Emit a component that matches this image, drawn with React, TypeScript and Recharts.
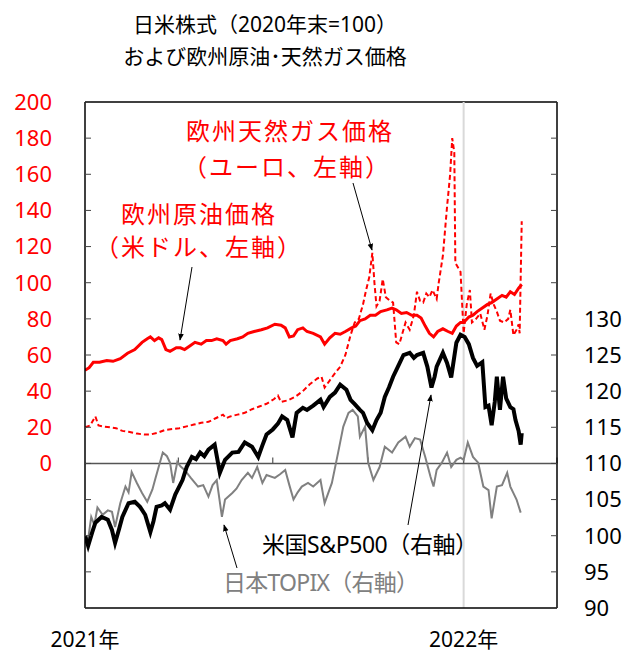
import React from "react";
import { LineChart, Line, XAxis, YAxis, ReferenceLine } from "recharts";

// x = days since 2021-01-01
const oil: [number, number][] = [
  [0, 51.5], [4, 53], [8, 56], [14, 56], [21, 57], [27, 56.5], [34, 58], [41, 61], [48, 63],
  [55, 67], [60, 69], [63, 70], [67, 68], [71, 69.5], [74, 68.5], [78, 63], [82, 62], [88, 64],
  [92, 64], [96, 63], [101, 65], [106, 67], [112, 66], [117, 68], [122, 68], [127, 69], [133, 68],
  [136, 66], [140, 68], [147, 69], [152, 70], [157, 72], [163, 73], [170, 74], [176, 75], [183, 77],
  [189, 76.5], [193, 75], [197, 70], [201, 70.5], [205, 74], [210, 75], [214, 73], [220, 72],
  [227, 70], [231, 66], [236, 69.5], [241, 72], [246, 71.5], [251, 73], [257, 75], [261, 76],
  [265, 79], [270, 80], [275, 82], [280, 82], [285, 84], [291, 85], [296, 86], [300, 85],
  [305, 83], [310, 83.5], [315, 82], [320, 82], [324, 80.5], [328, 76], [332, 72], [336, 70],
  [340, 73], [345, 74.5], [350, 73], [354, 72], [358, 76], [362, 78], [365, 78], [370, 81],
  [374, 82], [378, 84], [383, 86], [388, 88], [392, 89], [397, 91], [402, 93], [406, 92],
  [410, 95], [414, 93.5], [418, 97], [421, 99],
];

const gas: [number, number][] = [
  [0, 20], [5, 21], [8, 24], [10, 26], [13, 21], [17, 20.5], [24, 20], [30, 19.5], [36, 18],
  [42, 17.5], [50, 16.5], [57, 16], [63, 16], [70, 17], [77, 18.5], [84, 19], [91, 19.5],
  [98, 20.5], [105, 21.5], [112, 22.5], [119, 23], [126, 25], [133, 27], [136, 25], [140, 26],
  [147, 27], [154, 28], [161, 30], [168, 31.5], [175, 33], [182, 35.5], [186, 37.5], [189, 34],
  [196, 35], [203, 37], [210, 40], [217, 44], [224, 47], [228, 48], [231, 42], [236, 46],
  [241, 50], [246, 53.5], [251, 60], [256, 71], [260, 78], [264, 80], [268, 88], [271, 96],
  [274, 103], [277, 116.5], [279, 100], [281, 87], [284, 90], [287, 102], [290, 92], [294, 90],
  [297, 89], [300, 67], [303, 66], [306, 72], [309, 78], [313, 74], [317, 82], [320, 95],
  [323, 90], [326, 89], [329, 94], [332, 92], [335, 96], [339, 91], [341, 100], [345, 115],
  [349, 142], [352, 160], [354, 180], [356, 172], [357, 111], [360, 108], [362, 106], [365, 72],
  [368, 88], [371, 96], [373, 78], [377, 80], [381, 83], [385, 74], [388, 82], [391, 94],
  [394, 88], [397, 84], [400, 79], [404, 78], [408, 80], [410, 85], [413, 71], [416, 74],
  [418, 77], [419, 72], [421, 134],
];

const sp500: [number, number][] = [
  [0, 100], [3, 98.6], [7, 100.5], [10, 101.8], [16, 102.6], [22, 102.2], [26, 100.8], [29, 99],
  [33, 101], [36, 102.6], [42, 104.5], [48, 104.7], [53, 104], [58, 102.9], [63, 100.5], [66, 102],
  [69, 104], [74, 104.2], [77, 104.5], [82, 103.6], [87, 105.7], [94, 107.7], [98, 109.5],
  [103, 110.9], [107, 110.6], [111, 111.5], [115, 111], [119, 111.9], [125, 112.6], [130, 108.7],
  [135, 110.5], [142, 111.5], [148, 111.6], [154, 112.9], [161, 112.3], [167, 110.9], [171, 112.5],
  [175, 114], [181, 114.7], [186, 115.5], [190, 116.5], [195, 116], [200, 113.6], [204, 117],
  [210, 117.7], [214, 117.4], [220, 118], [227, 118.8], [230, 117.8], [236, 119.2], [241, 119.8],
  [246, 120.9], [252, 120.2], [256, 118.8], [260, 118.2], [265, 117.4], [268, 117], [272, 115.6],
  [277, 114.6], [281, 116], [285, 117], [289, 119.2], [293, 120.5], [297, 122], [302, 123.5],
  [307, 125], [313, 125.3], [317, 124.6], [320, 125], [326, 125.3], [330, 123.4], [334, 120.5],
  [337, 122], [339, 123.4], [345, 125.3], [349, 123.9], [353, 121.9], [358, 126.7], [362, 127.8],
  [366, 127.5], [370, 126.5], [374, 124.6], [378, 123.5], [383, 124], [386, 117.8], [389, 118],
  [392, 115.3], [395, 118.5], [397, 122], [400, 117.4], [403, 122], [406, 119], [410, 117.8],
  [413, 117.5], [415, 116], [418, 114.5], [420, 112.6], [421, 114.2],
];

const topix: [number, number][] = [
  [0, 100], [3, 99.5], [6, 102.6], [9, 101.5], [12, 103.9], [17, 102.9], [22, 103.5], [26, 103.3],
  [29, 101.2], [34, 104.5], [39, 106.8], [42, 106], [45, 108.8], [50, 107.3], [55, 105.9],
  [60, 104.7], [65, 106.4], [68, 108], [71, 109.5], [75, 111.5], [79, 111], [82, 110.1], [85, 107.3],
  [89, 110.2], [92, 109.6], [96, 109.1], [102, 108], [109, 106.8], [114, 107], [119, 105.4],
  [123, 107], [127, 107.7], [132, 102.6], [135, 105], [142, 105.9], [146, 106.5], [151, 107.7],
  [157, 108.7], [161, 108], [166, 109.5], [171, 107.3], [175, 108.4], [183, 108], [188, 108.5],
  [193, 109.1], [197, 107], [201, 105], [205, 106], [209, 106.8], [215, 107.3], [220, 106.8],
  [227, 107.7], [231, 104.5], [238, 107.3], [244, 111.5], [249, 115.1], [254, 117], [258, 117.4],
  [263, 116.5], [265, 113.7], [270, 115.1], [273, 110.1], [278, 107.7], [284, 109.5], [289, 112.3],
  [296, 111.5], [302, 112.9], [309, 113.7], [313, 112.3], [318, 113.5], [323, 113.3], [328, 110.9],
  [333, 108.2], [336, 106.8], [339, 109.1], [344, 110.1], [349, 111.5], [353, 109.5], [358, 110.5],
  [362, 110.8], [365, 110.5], [369, 112.9], [374, 110.9], [379, 110.1], [384, 106.8], [389, 106.3],
  [392, 102.4], [397, 106.8], [402, 107], [407, 108.7], [410, 106.8], [413, 105.9], [416, 105],
  [420, 103.2],
];

const leftTicks = [-80, -60, -40, -20, 0, 20, 40, 60, 80, 100, 120, 140, 160, 180, 200];
const rightTicks = [90, 95, 100, 105, 110, 115, 120, 125, 130, 135, 140, 145, 150, 155, 160];
const quarterTicks = [90, 181, 273, 365, 455];
const yearTicks = [0, 365];
const yearLabels: Record<number, string> = { 0: "2021年", 365: "2022年" };

const rows = (pts: [number, number][]) => pts.map(([day, value]) => ({ day, value }));

const FONT = "'Noto Sans', 'Noto Sans CJK JP', sans-serif";
const RED = "#ff0000";

export default function App() {
  return (
    <div style={{ position: "absolute", left: 0, top: 0, width: 626, height: 655, fontFamily: FONT }}>
      <LineChart width={626} height={655} margin={{ top: 102, right: 9, bottom: 0, left: 25 }}>
        <XAxis
          xAxisId="x"
          dataKey="day"
          type="number"
          domain={[0, 455]}
          ticks={yearTicks}
          interval={0}
          height={47}
          tickFormatter={(v: number) => yearLabels[v] ?? ""}
          tick={{ fill: "#000", fontSize: 21, fontFamily: FONT }}
          tickLine={false}
          tickSize={0}
          tickMargin={24}
          axisLine={{ stroke: "#000", strokeWidth: 1.5 }}
          allowDataOverflow
        />
        <YAxis
          yAxisId="left"
          orientation="left"
          domain={[-80, 200]}
          ticks={leftTicks}
          interval={0}
          width={60}
          tickFormatter={(v: number) => (v < 0 ? "" : String(v))}
          tick={{ fill: RED, fontSize: 22, fontFamily: FONT }}
          tickSize={-6}
          tickMargin={39}
          tickLine={{ stroke: "#444" }}
          axisLine={{ stroke: "#000", strokeWidth: 1.5 }}
          allowDataOverflow
        />
        <YAxis
          yAxisId="right"
          orientation="right"
          domain={[90, 160]}
          ticks={rightTicks}
          interval={0}
          width={60}
          tickFormatter={(v: number) => (v > 130 ? "" : String(v))}
          tick={{ fill: "#000", fontSize: 22, fontFamily: FONT }}
          tickSize={-6}
          tickMargin={33}
          tickLine={{ stroke: "#444" }}
          axisLine={{ stroke: "#000", strokeWidth: 1.5 }}
          allowDataOverflow
        />
        <ReferenceLine xAxisId="x" yAxisId="left" y={200} stroke="#000" strokeWidth={1.5} />
        <ReferenceLine xAxisId="x" yAxisId="left" x={365} stroke="#d9d9d9" strokeWidth={2} />
        <ReferenceLine xAxisId="x" yAxisId="left" y={0} stroke="#555" strokeWidth={1.5} />
        {quarterTicks.map((q) => (
          <ReferenceLine
            key={q}
            xAxisId="x"
            yAxisId="left"
            segment={[{ x: q, y: 0 }, { x: q, y: 3.3 }]}
            stroke="#555"
            strokeWidth={1.2}
          />
        ))}
        <Line
          xAxisId="x"
          yAxisId="left"
          data={rows(gas)}
          dataKey="value"
          stroke={RED}
          strokeWidth={2}
          strokeDasharray="5 3"
          dot={false}
          isAnimationActive={false}
        />
        <Line
          xAxisId="x"
          yAxisId="left"
          data={rows(oil)}
          dataKey="value"
          stroke={RED}
          strokeWidth={3}
          dot={false}
          isAnimationActive={false}
        />
        <Line
          xAxisId="x"
          yAxisId="right"
          data={rows(topix)}
          dataKey="value"
          stroke="#808080"
          strokeWidth={2}
          dot={false}
          isAnimationActive={false}
        />
        <Line
          xAxisId="x"
          yAxisId="right"
          data={rows(sp500)}
          dataKey="value"
          stroke="#000"
          strokeWidth={4}
          dot={false}
          isAnimationActive={false}
        />
      </LineChart>
      <svg
        width={626}
        height={655}
        style={{ position: "absolute", left: 0, top: 0, pointerEvents: "none", fontFamily: FONT }}
      >
        <defs>
          <marker id="arr" viewBox="0 0 10 10" refX="9" refY="5" markerWidth="7" markerHeight="7" orient="auto">
            <path d="M0,1 L10,5 L0,9 z" fill="#000" />
          </marker>
        </defs>
        <text x={265} y={32} textAnchor="middle" fontSize={21} fill="#000">日米株式（2020年末=100）</text>
        <text x={265} y={64} textAnchor="middle" fontSize={21} fill="#000">および欧州原油･天然ガス価格</text>

        <text x={290} y={140} textAnchor="middle" fontSize={24} letterSpacing={2} fill={RED}>欧州天然ガス価格</text>
        <text x={287} y={176} textAnchor="middle" fontSize={24} letterSpacing={2} fill={RED}>（ユーロ、左軸）</text>
        <text x={199} y={223} textAnchor="middle" fontSize={24} letterSpacing={2} fill={RED}>欧州原油価格</text>
        <text x={199} y={256} textAnchor="middle" fontSize={24} letterSpacing={2} fill={RED}>（米ドル、左軸）</text>
        <text x={262} y={553} fontSize={23} textLength={216} lengthAdjust="spacing" fill="#000">米国S&amp;P500（右軸）</text>
        <text x={223} y={591} fontSize={23} textLength={196} lengthAdjust="spacing" fill="#808080">日本TOPIX（右軸）</text>

        <line x1={192} y1={267} x2={180} y2={340} stroke="#000" strokeWidth={1} markerEnd="url(#arr)" />
        <line x1={353} y1={183} x2={372} y2={250} stroke="#000" strokeWidth={1} markerEnd="url(#arr)" />
        <line x1={408} y1={525} x2={431} y2={395} stroke="#000" strokeWidth={1} markerEnd="url(#arr)" />
        <line x1={237} y1={568} x2={224} y2={525} stroke="#000" strokeWidth={1} markerEnd="url(#arr)" />
      </svg>
    </div>
  );
}
